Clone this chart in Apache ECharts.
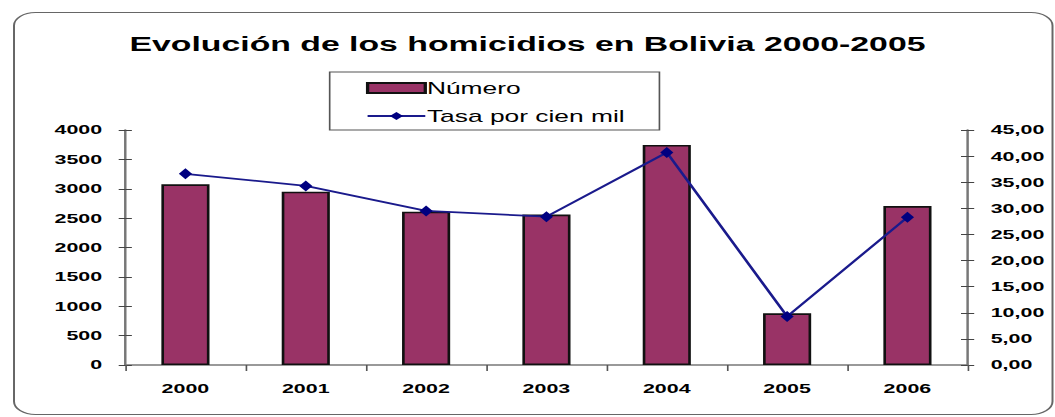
<!DOCTYPE html>
<html>
<head>
<meta charset="utf-8">
<script src="https://cdn.jsdelivr.net/npm/echarts@6/dist/echarts.min.js"></script>
<style>
	html, body { margin: 0; padding: 0; background: #ffffff; overflow: hidden; }
	/* the original picture is stretched sideways, so the chart is drawn narrow and widened */
	#chart { width: 640px; height: 417px; transform: scaleX(1.6484); transform-origin: 0 0; }
</style>
</head>
<body>
<div id="chart"></div>
<script>
	// datos
	var years = ['2000', '2001', '2002', '2003', '2004', '2005', '2006'];
	var numero = [3075, 2950, 2610, 2560, 3745, 880, 2705];
	var tasa = [36.6, 34.3, 29.5, 28.4, 40.7, 9.3, 28.3];
	var leftTicks = [0, 4000, 500];
	var rightTicks = [0, 45, 5];

	var font = 'Liberation Sans';
	var labelStyle = { fontFamily: font, fontSize: 13, fontWeight: 'bold', color: '#000' };
	var myChart = echarts.init(document.getElementById('chart'), null, { renderer: 'svg' });

	function valueAxis(t, pos, inside, labels) {
		return {
			type: 'value',
			position: pos,
			min: t[0], max: t[1], interval: t[2],
			axisLine: { show: labels, lineStyle: { color: '#777', width: 1.5 } },
			axisTick: { show: true, inside: inside, length: 4, lineStyle: { color: '#444' } },
			splitLine: { show: false },
			axisLabel: Object.assign({ show: labels, margin: 14 }, labelStyle, {
				formatter: function (v) {
					return t[1] < 100 ? v.toFixed(2).replace('.', ',') : String(v);
				}
			})
		};
	}

	var option = {
		backgroundColor: '#ffffff',
		textStyle: { fontFamily: font },
		graphic: [{
			type: 'rect',
			left: 6, top: 10,
			shape: { width: 630, height: 402, r: 13 },
			style: { fill: 'none', stroke: '#666', lineWidth: 1.2 },
			silent: true
		}],
		title: {
			text: 'Evolución de los homicidios en Bolivia 2000-2005',
			left: 'center',
			top: 29,
			textStyle: { fontFamily: font, fontSize: 20.5, fontWeight: 'bold', color: '#000' }
		},
		legend: {
			orient: 'vertical',
			left: 200,
			top: 72,
			padding: [8, 21, 6, 22],
			itemGap: 12,
			itemWidth: 35,
			itemHeight: 10,
			borderColor: '#555',
			borderWidth: 1,
			textStyle: { fontFamily: font, fontSize: 16, color: '#000', padding: [0, 0, 0, -4] },
			data: [
				{ name: 'Número', icon: 'rect' },
				{ name: 'Tasa por cien mil' }
			]
		},
		grid: { left: 76, right: 53, top: 130, bottom: 52 },
		xAxis: {
			type: 'category',
			data: years,
			axisLine: { lineStyle: { color: '#777', width: 1.5 } },
			axisTick: { show: true, length: 6, lineStyle: { color: '#555' } },
			axisLabel: Object.assign({ margin: 17 }, labelStyle)
		},
		yAxis: [
			valueAxis(leftTicks, 'left', false, true),
			valueAxis(rightTicks, 'right', false, true),
			valueAxis(leftTicks, 'left', true, false),
			valueAxis(rightTicks, 'right', true, false)
		],
		series: [{
			name: 'Número',
			type: 'bar',
			data: numero,
			barWidth: '40%',
			itemStyle: { color: '#993366', borderColor: '#111', borderWidth: 1.6 }
		}, {
			name: 'Tasa por cien mil',
			type: 'line',
			yAxisIndex: 1,
			data: tasa,
			symbol: 'diamond',
			symbolSize: [8, 11],
			lineStyle: { color: '#1a1a8c', width: 1.8 },
			itemStyle: { color: '#000080' }
		}]
	};
	myChart.setOption(option);
</script>
</body>
</html>
